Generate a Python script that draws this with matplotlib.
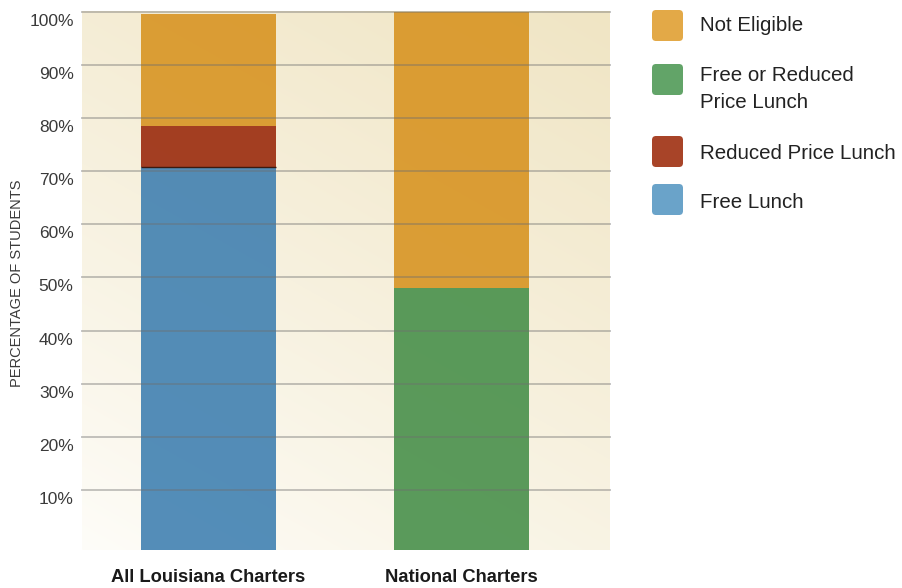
import numpy as np
import matplotlib
matplotlib.use("Agg")
import matplotlib.pyplot as plt
from matplotlib import font_manager
from matplotlib.patches import FancyBboxPatch
from matplotlib.transforms import ScaledTranslation

# ---------------- data ----------------
categories = ['All Louisiana Charters', 'National Charters']
series_names = ['Free Lunch', 'Free or Reduced\nPrice Lunch', 'Reduced Price Lunch', 'Not Eligible']
free_lunch = [70.9, 0.0]
free_or_reduced = [0.0, 48.1]
reduced_lunch = [7.6, 0.0]
not_eligible = [21.1, 51.9]
ytick_values = [10, 20, 30, 40, 50, 60, 70, 80, 90, 100]
ytick_labels = ['10%', '20%', '30%', '40%', '50%', '60%', '70%', '80%', '90%', '100%']
legend_order = ['Not Eligible', 'Free or Reduced\nPrice Lunch', 'Reduced Price Lunch', 'Free Lunch']

# ---------------- styles ----------------
bar_colors = {'Free Lunch': '#367AAE', 'Free or Reduced\nPrice Lunch': '#3E8A42',
              'Reduced Price Lunch': '#951F01', 'Not Eligible': '#D68F18'}
legend_colors = {'Free Lunch': '#6AA3C9', 'Free or Reduced\nPrice Lunch': '#62A468',
                 'Reduced Price Lunch': '#A84428', 'Not Eligible': '#E3A947'}


def have(fam):
    try:
        font_manager.findfont(font_manager.FontProperties(family=fam), fallback_to_default=False)
        return True
    except Exception:
        return False

narrow = have('Liberation Sans Narrow')
tick_font = 'Liberation Sans Narrow' if narrow else 'Liberation Sans'
tick_size = 14 if narrow else 12.5
xlab_size = 15.5 if narrow else 13.2

W, H = 902, 588
fig = plt.figure(figsize=(W / 100, H / 100), dpi=100)
fig.patch.set_facecolor('white')

ymin, ymax = -1.32, 100.19
ax = fig.add_axes([82 / W, 1 - 550 / H, 528 / W, 539 / H])
ax.set_xlim(-0.5, 1.587)
ax.set_ylim(ymin, ymax)

# background gradient (white bottom-left -> beige top-right)
gx, gy = np.meshgrid(np.linspace(0, 1, 300), np.linspace(0, 1, 300))
t = np.clip((gx * 0.55 + gy) / 1.55, 0, 1) ** 0.9
c0 = np.array([254, 253, 249]) / 255
c1 = np.array([240, 229, 196]) / 255
img = c0[None, None, :] * (1 - t[..., None]) + c1[None, None, :] * t[..., None]
ax.imshow(img, extent=[0, 1, 0, 1], transform=ax.transAxes, origin='lower',
          aspect='auto', zorder=0, interpolation='bilinear')

# stacked bars
x = np.arange(len(categories))
bw = 0.534
stack = [('Free Lunch', free_lunch), ('Free or Reduced\nPrice Lunch', free_or_reduced),
         ('Reduced Price Lunch', reduced_lunch), ('Not Eligible', not_eligible)]
cum = np.zeros(len(categories))
for name, vals in stack:
    vals = np.array(vals)
    for i in range(len(categories)):
        if vals[i] <= 0:
            continue
        bottom = ymin if cum[i] == 0 else cum[i]
        top = cum[i] + vals[i]
        ax.bar(x[i], top - bottom, bottom=bottom, width=bw, color=bar_colors[name],
               alpha=0.85, linewidth=0, zorder=2)
    cum = cum + vals

# thin dark edge between free and reduced lunch
for i in range(len(categories)):
    if reduced_lunch[i] > 0 and free_lunch[i] > 0:
        ax.plot([x[i] - bw / 2, x[i] + bw / 2], [free_lunch[i], free_lunch[i]],
                color='#3a1a10', lw=1.0, zorder=3, solid_capstyle='butt')

# gridlines on top
for v in ytick_values:
    ax.axhline(v, color='#6e6e6e', alpha=0.4, lw=1.4, zorder=4, clip_on=False)

for s in ax.spines.values():
    s.set_visible(False)
ax.tick_params(length=0)
ax.set_yticks(ytick_values)
ax.set_yticklabels(ytick_labels, fontfamily=tick_font, fontsize=tick_size, color='#3a3a3a')
ax.tick_params(axis='y', pad=6)
off = ScaledTranslation(0, -8 / 100, fig.dpi_scale_trans)
for lab in ax.get_yticklabels():
    lab.set_transform(lab.get_transform() + off)

ax.set_xticks(x)
ax.set_xticklabels(categories, fontfamily=tick_font, fontweight='bold', fontsize=xlab_size,
                   color='#1a1a1a')
ax.tick_params(axis='x', pad=14)

fig.text(17 / W, 1 - 283 / H, 'PERCENTAGE OF STUDENTS', rotation=90, ha='center', va='center',
         fontfamily=tick_font, fontsize=12 if narrow else 10.5, color='#3a3a3a')

# legend drawn in pixel coordinates
lax = fig.add_axes([0, 0, 1, 1])
lax.set_xlim(0, W)
lax.set_ylim(H, 0)
lax.axis('off')
lax.patch.set_alpha(0)
sq_tops = [10, 64, 136, 184]
text_baselines = [31, 81, 159, 208]
for name, top, base in zip(legend_order, sq_tops, text_baselines):
    lax.add_patch(FancyBboxPatch((652, top), 31, 31,
                                 boxstyle='round,pad=0,rounding_size=4',
                                 facecolor=legend_colors[name], edgecolor='none'))
    for j, line in enumerate(name.split('\n')):
        lax.text(700, base + j * 27, line, ha='left', va='baseline',
                 fontfamily='Liberation Sans', fontsize=14.8, color='#222222')

fig.savefig('out.png', dpi=100, facecolor='white')
